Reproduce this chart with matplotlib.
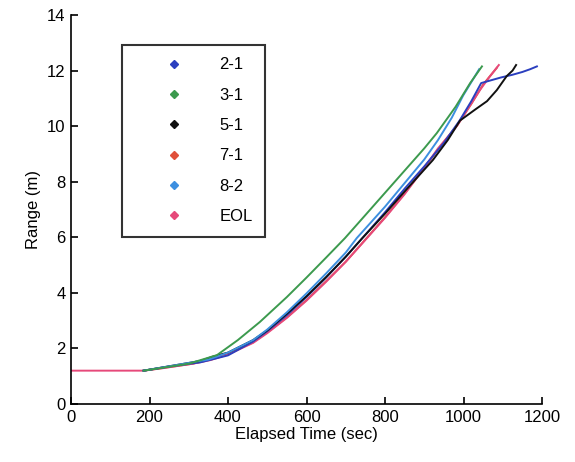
import matplotlib
matplotlib.use("Agg")
import matplotlib.pyplot as plt
from matplotlib.lines import Line2D

plt.rcParams["font.family"] = ["Liberation Sans", "DejaVu Sans"]

# series: elapsed time (s), range (m)
t_21 = [185, 250, 330, 400, 464, 500, 550, 600, 650, 700, 741, 800, 850, 900, 950, 990, 1020, 1045, 1070, 1095, 1125, 1150, 1170, 1187]
r_21 = [1.2, 1.35, 1.5, 1.75, 2.25, 2.62, 3.2, 3.85, 4.55, 5.3, 5.95, 6.9, 7.75, 8.55, 9.4, 10.2, 10.9, 11.55, 11.65, 11.75, 11.85, 11.95, 12.05, 12.15]

t_31 = [185, 300, 372, 425, 481, 550, 600, 650, 698, 750, 800, 850, 900, 932, 980, 1017, 1047]
r_31 = [1.2, 1.45, 1.76, 2.3, 2.95, 3.85, 4.55, 5.27, 5.97, 6.8, 7.6, 8.4, 9.2, 9.75, 10.7, 11.55, 12.15]

t_51 = [185, 330, 360, 400, 464, 500, 550, 600, 650, 700, 741, 800, 850, 922, 960, 991, 1030, 1060, 1085, 1110, 1125, 1134]
r_51 = [1.2, 1.55, 1.7, 1.85, 2.3, 2.65, 3.25, 3.88, 4.57, 5.3, 5.95, 6.85, 7.65, 8.78, 9.5, 10.2, 10.6, 10.9, 11.3, 11.8, 12.0, 12.2]

t_71 = [185, 310, 360, 400, 464, 500, 550, 600, 650, 700, 750, 800, 850, 900, 940, 985, 1020, 1050, 1085]
r_71 = [1.2, 1.45, 1.62, 1.8, 2.22, 2.58, 3.12, 3.74, 4.42, 5.12, 5.92, 6.72, 7.58, 8.5, 9.25, 10.05, 10.8, 11.5, 12.1]

t_82 = [185, 350, 400, 464, 500, 550, 600, 650, 700, 728, 800, 850, 900, 935, 970, 999, 1040]
r_82 = [1.2, 1.6, 1.85, 2.3, 2.68, 3.3, 3.98, 4.7, 5.45, 5.97, 7.1, 7.95, 8.8, 9.5, 10.3, 11.1, 12.05]

t_eol = [0, 185, 230, 310, 355, 400, 464, 500, 550, 600, 650, 700, 754, 800, 850, 900, 935, 983, 1010, 1042, 1065, 1090]
r_eol = [1.2, 1.2, 1.28, 1.45, 1.58, 1.78, 2.2, 2.55, 3.1, 3.72, 4.4, 5.12, 5.97, 6.7, 7.55, 8.5, 9.2, 10.0, 10.6, 11.3, 11.75, 12.2]

labels = ["2-1", "3-1", "5-1", "7-1", "8-2", "EOL"]
colors = ["#2b3fbf", "#3c9a4e", "#111111", "#e0503a", "#3d8fe0", "#e6497a"]
series = [(t_21, r_21), (t_31, r_31), (t_51, r_51), (t_71, r_71), (t_82, r_82), (t_eol, r_eol)]

fig = plt.figure(figsize=(5.75, 4.62), dpi=100)
ax = fig.add_axes([71 / 575, 58 / 462, 471 / 575, 389 / 462])

order = [3, 5, 0, 2, 4, 1]
for i in order:
  ax.plot(series[i][0], series[i][1], color=colors[i], lw=1.4)

ax.set_xlim(0, 1200)
ax.set_ylim(0, 14)
ax.set_xticks(range(0, 1201, 200))
ax.set_yticks(range(0, 15, 2))
ax.spines["top"].set_visible(False)
ax.spines["right"].set_visible(False)
for s in ["left", "bottom"]:
  ax.spines[s].set_linewidth(1.2)
ax.tick_params(direction="in", length=5, width=1.2, labelsize=12, pad=4)
ax.set_xlabel("Elapsed Time (sec)", fontsize=12, labelpad=2)
ax.set_ylabel("Range (m)", fontsize=12, labelpad=4)

handles = [Line2D([], [], ls="none", marker="D", ms=4.5, color=c) for c in colors]
leg = ax.legend(handles, labels, loc="upper left", bbox_to_anchor=(0.108, 0.923),
                fontsize=12, frameon=True, fancybox=False, borderpad=0.75,
                handlelength=4.8, handletextpad=0.3, labelspacing=0.92,
                borderaxespad=0)
leg.get_frame().set_edgecolor("black")
leg.get_frame().set_linewidth(1.5)

fig.savefig("out.png", dpi=100)
